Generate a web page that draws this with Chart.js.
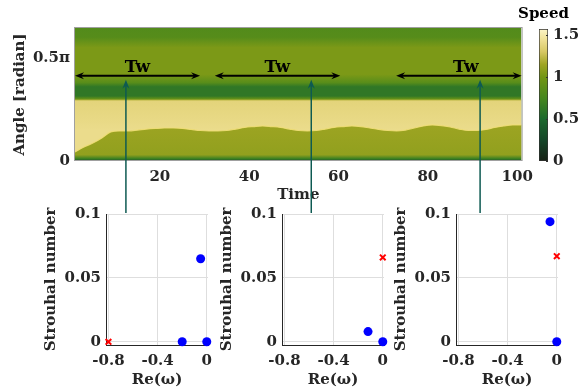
<!DOCTYPE html>
<html>
<head>
<meta charset="utf-8">
<script src="https://cdn.jsdelivr.net/npm/chart.js@4.4.1/dist/chart.umd.min.js"></script>
<style>
  body { margin: 0; background: #fff; }
  #fig { position: relative; width: 580px; height: 391px; overflow: hidden; background: #fff; }
  .box { position: absolute; }
</style>
</head>
<body>
<div id="fig">
  <div class="box" style="left:40px;top:195px;width:182px;height:196px"><canvas id="spec1"></canvas></div>
  <div class="box" style="left:216px;top:195px;width:182px;height:196px"><canvas id="spec2"></canvas></div>
  <div class="box" style="left:390px;top:195px;width:182px;height:196px"><canvas id="spec3"></canvas></div>
  <div class="box" style="left:0;top:0;width:540px;height:215px"><canvas id="heat"></canvas></div>
  <div class="box" style="left:507px;top:0;width:73px;height:200px"><canvas id="cbar"></canvas></div>
</div>
<script>
// ---- space-time map (angle in units of pi) ----
const timeTicks = [20, 40, 60, 80, 100];
const angleTicks = [0, 0.5];
const waveTime = [1, 3, 5, 7, 9, 11, 13, 15, 17, 19, 21, 23, 25, 27, 29, 31, 33, 35, 37, 39, 41, 43, 45, 47, 49,
  51, 53, 55, 57, 59, 61, 63, 65, 67, 69, 71, 73, 75, 77, 79, 81, 83, 85, 87, 89, 91, 93, 95, 97, 99, 101];
const waveAngle = [0.044, 0.068, 0.087, 0.112, 0.141, 0.146, 0.146, 0.150, 0.155, 0.158, 0.160, 0.160, 0.158,
  0.153, 0.148, 0.146, 0.146, 0.148, 0.155, 0.163, 0.167, 0.170, 0.167, 0.163, 0.155, 0.148, 0.146, 0.148,
  0.155, 0.163, 0.167, 0.170, 0.167, 0.160, 0.153, 0.148, 0.146, 0.150, 0.160, 0.170, 0.175, 0.172, 0.165,
  0.155, 0.148, 0.148, 0.153, 0.163, 0.170, 0.175, 0.175];

// speed profile across the angle, per band
const upperAngle = [0.645, 0.6, 0.55, 0.42, 0.38, 0.36, 0.315, 0.302];
const upperSpeed = [0.82, 0.84, 1.03, 1.03, 0.85, 0.62, 0.62, 0.9];
const paleAngle = [0.298, 0.29, 0.2, 0.15];
const paleSpeed = [1.2, 1.37, 1.4, 1.42];
const lowAngle = [0.175, 0.03, 0.012, 0];
const lowSpeed = [1.14, 1.1, 0.7, 0.35];
const angleMax = 0.645;

// travelling-wave windows and probe times
const twStart = [1, 32.3, 72.9];
const twEnd = [29, 60.4, 101];
const twLabel = [15, 46.3, 88.5];
const twAngle = 0.413;
const probeTime = [12.4, 53.9, 91.7];

// colour map
const speedStops = [0, 0.25, 0.5, 0.75, 1.0, 1.15, 1.3, 1.45, 1.571];
const speedColors = [[22, 32, 20], [20, 70, 40], [28, 105, 45], [70, 135, 30], [115, 150, 20],
  [160, 165, 35], [215, 200, 100], [240, 225, 150], [252, 245, 200]];
const cbarTicks = [0, 0.5, 1, 1.5];

// ---- spectra ----
const reTicks = [-0.8, -0.6, -0.4, -0.2, 0];
const reLabels = [-0.8, -0.4, 0];
const stTicks = [0, 0.05, 0.1];
const eigRe = [[-0.05, -0.2, 0], [-0.12, 0], [-0.055, 0]];
const eigSt = [[0.065, 0, 0], [0.008, 0], [0.094, 0]];
const fftRe = [[-0.8], [0], [0]];
const fftSt = [[0], [0.066], [0.067]];

Chart.defaults.font.family = '"DejaVu Serif", serif';
Chart.defaults.font.weight = 'bold';
Chart.defaults.font.size = 15;
Chart.defaults.color = '#262626';

function speedColor(v) {
  for (let i = 1; i < speedStops.length; i++) {
    if (v <= speedStops[i]) {
      const f = (v - speedStops[i - 1]) / (speedStops[i] - speedStops[i - 1]);
      const a = speedColors[i - 1], b = speedColors[i];
      return `rgb(${a.map((c, k) => Math.round(c + (b[k] - c) * f)).join(',')})`;
    }
  }
  return `rgb(${speedColors[speedColors.length - 1].join(',')})`;
}

function bandFill(angles, speeds) {
  return (ctx) => {
    const chart = ctx.chart;
    const y = chart.scales.y;
    if (!chart.chartArea || !y) return null;
    const top = y.getPixelForValue(angles[0]);
    const bot = y.getPixelForValue(angles[angles.length - 1]);
    const g = chart.ctx.createLinearGradient(0, top, 0, bot);
    angles.forEach((a, i) => {
      g.addColorStop(Math.min(1, Math.max(0, (y.getPixelForValue(a) - top) / (bot - top))), speedColor(speeds[i]));
    });
    return g;
  };
}

function arrowHead(ctx, x, y, dx, dy) {
  // stealth arrow head, tip at (x, y) pointing along (dx, dy)
  const px = -dy, py = dx;
  ctx.beginPath();
  ctx.moveTo(x, y);
  ctx.lineTo(x - dx * 9 + px * 3.5, y - dy * 9 + py * 3.5);
  ctx.lineTo(x - dx * 6, y - dy * 6);
  ctx.lineTo(x - dx * 9 - px * 3.5, y - dy * 9 - py * 3.5);
  ctx.closePath();
  ctx.fill();
}

const heatOverlay = {
  id: 'heatOverlay',
  afterDraw(chart) {
    const { ctx, chartArea: a, scales: { x, y } } = chart;
    ctx.save();
    ctx.strokeStyle = '#a0a0a0';
    ctx.lineWidth = 1;
    ctx.strokeRect(a.left - 0.5, a.top - 0.5, a.width + 1, a.height);

    const yA = y.getPixelForValue(twAngle);
    ctx.strokeStyle = '#000';
    ctx.fillStyle = '#000';
    ctx.lineWidth = 2;
    ctx.font = 'bold 17px "DejaVu Serif"';
    ctx.textAlign = 'center';
    ctx.textBaseline = 'alphabetic';
    twStart.forEach((t0, i) => {
      const x0 = x.getPixelForValue(t0), x1 = x.getPixelForValue(twEnd[i]);
      ctx.beginPath();
      ctx.moveTo(x0 + 5, yA);
      ctx.lineTo(x1 - 5, yA);
      ctx.stroke();
      arrowHead(ctx, x0, yA, -1, 0);
      arrowHead(ctx, x1, yA, 1, 0);
      ctx.fillText('Tw', x.getPixelForValue(twLabel[i]), yA - 4);
    });

    ctx.strokeStyle = '#0e5a52';
    ctx.fillStyle = '#0e5a52';
    ctx.lineWidth = 1.5;
    probeTime.forEach((t) => {
      const px = x.getPixelForValue(t);
      ctx.beginPath();
      ctx.moveTo(px, yA + 9);
      ctx.lineTo(px, chart.height - 2);
      ctx.stroke();
      arrowHead(ctx, px, yA + 4, 0, -1);
    });
    ctx.restore();
  }
};

// colour-bar heading and inner tick marks
const cbarDecor = {
  id: 'cbarDecor',
  afterDraw(chart) {
    const { ctx, chartArea: a, scales: { y } } = chart;
    ctx.save();
    ctx.fillStyle = '#000';
    ctx.font = 'bold 15px "DejaVu Serif"';
    ctx.textAlign = 'center';
    ctx.textBaseline = 'middle';
    ctx.fillText('Speed', (a.left + a.right) / 2, 14);
    ctx.strokeStyle = '#333';
    ctx.lineWidth = 1;
    cbarTicks.forEach((v) => {
      const py = Math.round(y.getPixelForValue(v)) + 0.5;
      ctx.beginPath();
      ctx.moveTo(a.right - 2, py);
      ctx.lineTo(a.right, py);
      ctx.stroke();
    });
    ctx.restore();
  }
};

new Chart(document.getElementById('heat'), {
  type: 'line',
  data: {
    datasets: [
      {
        data: [{ x: 1, y: angleMax }, { x: 101, y: angleMax }],
        order: 3, fill: 'origin', borderWidth: 0, pointRadius: 0,
        backgroundColor: bandFill(upperAngle, upperSpeed),
      },
      {
        data: [{ x: 1, y: paleAngle[0] }, { x: 101, y: paleAngle[0] }],
        order: 2, fill: 'origin', borderWidth: 0, pointRadius: 0,
        backgroundColor: bandFill(paleAngle, paleSpeed),
      },
      {
        data: waveTime.map((t, i) => ({ x: t, y: waveAngle[i] })),
        order: 1, fill: 'origin', pointRadius: 0,
        cubicInterpolationMode: 'monotone',
        borderColor: 'rgba(240,222,120,0.9)', borderWidth: 1.2,
        backgroundColor: bandFill(lowAngle, lowSpeed),
      },
    ],
  },
  options: {
    responsive: true,
    maintainAspectRatio: false,
    animation: false,
    layout: { padding: { top: 28, right: 18, left: 0, bottom: 0 } },
    plugins: { legend: { display: false }, tooltip: { enabled: false } },
    scales: {
      x: {
        type: 'linear', min: 1, max: 101,
        afterBuildTicks: (s) => { s.ticks = timeTicks.map((v) => ({ value: v })); },
        afterFit: (s) => { s.height = 54; },
        grid: { display: false, drawTicks: false },
        border: { display: false },
        ticks: { padding: 7, maxRotation: 0, callback: (v) => String(v) },
        title: { display: true, text: 'Time', padding: { top: 0, bottom: 11 } },
      },
      y: {
        min: 0, max: angleMax,
        afterBuildTicks: (s) => { s.ticks = angleTicks.map((v) => ({ value: v })); },
        afterFit: (s) => { s.width = 75; },
        grid: { display: false, drawTicks: false },
        border: { display: false },
        ticks: { padding: 5, callback: (v) => (v === 0 ? '0' : v + 'π') },
        title: { display: true, text: 'Angle [radian]', padding: { top: 11, bottom: 0 } },
      },
    },
  },
  plugins: [heatOverlay],
});

new Chart(document.getElementById('cbar'), {
  type: 'bar',
  data: {
    labels: [''],
    datasets: [{
      data: [[speedStops[0], speedStops[speedStops.length - 1]]],
      barPercentage: 1, categoryPercentage: 1,
      borderColor: '#333', borderWidth: 1, borderSkipped: false,
      backgroundColor: bandFill(speedStops.slice().reverse(), speedStops.slice().reverse()),
    }],
  },
  options: {
    responsive: true,
    maintainAspectRatio: false,
    animation: false,
    layout: { padding: { top: 29, right: 0, left: 32, bottom: 39 } },
    plugins: { legend: { display: false }, tooltip: { enabled: false } },
    scales: {
      x: { display: false },
      y: {
        position: 'right', min: 0, max: speedStops[speedStops.length - 1],
        afterBuildTicks: (s) => { s.ticks = cbarTicks.map((v) => ({ value: v })); },
        afterFit: (s) => { s.width = 32; },
        grid: { display: false, drawTicks: false },
        border: { display: false },
        ticks: { padding: 5, callback: (v) => String(v) },
      },
    },
  },
  plugins: [cbarDecor],
});

function makeSpectrum(id, k) {
  new Chart(document.getElementById(id), {
    type: 'scatter',
    data: {
      datasets: [
        {
          data: eigRe[k].map((x, i) => ({ x, y: eigSt[k][i] })),
          pointStyle: 'circle', pointRadius: 4.5, backgroundColor: '#0000ff', borderWidth: 0, clip: false,
        },
        {
          data: fftRe[k].map((x, i) => ({ x, y: fftSt[k][i] })),
          pointStyle: 'crossRot', pointRadius: 4, borderColor: '#ff0000', borderWidth: 2, clip: false,
        },
      ],
    },
    options: {
      responsive: true,
      maintainAspectRatio: false,
      animation: false,
      layout: { padding: { top: 19, right: 14, left: 0, bottom: 0 } },
      plugins: { legend: { display: false }, tooltip: { enabled: false } },
      scales: {
        x: {
          type: 'linear', min: -0.82, max: 0.01,
          afterBuildTicks: (s) => { s.ticks = reTicks.map((v) => ({ value: v })); },
          afterFit: (s) => { s.height = 46; },
          grid: { color: '#dedede', drawTicks: false },
          border: { color: '#262626', width: 1 },
          ticks: { padding: 7, maxRotation: 0, callback: (v) => (reLabels.includes(v) ? String(v) : '') },
          title: { display: true, text: 'Re(ω)', padding: { top: 0, bottom: 2 } },
        },
        y: {
          min: -0.0025, max: 0.1,
          afterBuildTicks: (s) => { s.ticks = stTicks.map((v) => ({ value: v })); },
          afterFit: (s) => { s.width = 66; },
          grid: { color: '#dedede', drawTicks: false },
          border: { color: '#262626', width: 1 },
          ticks: { padding: 5, callback: (v) => String(v) },
          title: { display: true, text: 'Strouhal number', padding: { top: 2, bottom: 0 } },
        },
      },
    },
  });
}

makeSpectrum('spec1', 0);
makeSpectrum('spec2', 1);
makeSpectrum('spec3', 2);
</script>
</body>
</html>
